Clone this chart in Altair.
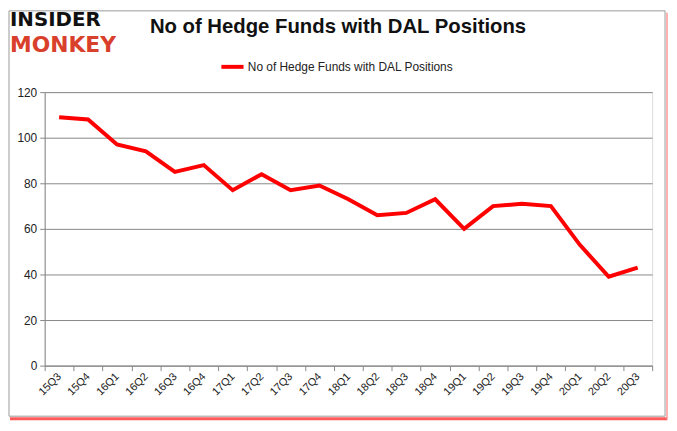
import altair as alt
import pandas as pd

quarters = ["15Q3", "15Q4", "16Q1", "16Q2", "16Q3", "16Q4", "17Q1", "17Q2", "17Q3", "17Q4",
            "18Q1", "18Q2", "18Q3", "18Q4", "19Q1", "19Q2", "19Q3", "19Q4", "20Q1", "20Q2", "20Q3"]
funds = [109, 108, 97, 94, 85, 88, 77, 84, 77, 79,
         73, 66, 67, 73, 60, 70, 71, 70, 53, 39, 43]
series_name = "No of Hedge Funds with DAL Positions"
title_text = "No of Hedge Funds with DAL Positions"
logo_top = "INSIDER"
logo_bottom = "MONKEY"

df = pd.DataFrame({"quarter": quarters, "funds": funds, "series": series_name})
one = pd.DataFrame({"k": [0]})

W, H = 613, 276

line = alt.Chart(df).mark_line(strokeWidth=4, color="#ff0000").encode(
    x=alt.X("quarter:N", sort=quarters, title=None,
            scale=alt.Scale(type="band", paddingInner=0, paddingOuter=0),
            axis=alt.Axis(labelAngle=-45, labelAlign="right", labelBaseline="middle",
                          tickBand="extent", tickSize=5, tickColor="#888888",
                          domainColor="#888888", labelFontSize=11, labelColor="#222222",
                          labelFont="Liberation Sans", labelPadding=4, grid=False)),
    y=alt.Y("funds:Q", title=None,
            scale=alt.Scale(domain=[0, 120]),
            axis=alt.Axis(values=[0, 20, 40, 60, 80, 100, 120], tickSize=5,
                          tickColor="#888888", domainColor="#888888", gridColor="#888888",
                          gridWidth=1, labelFontSize=12, labelColor="#222222",
                          labelFont="Liberation Sans", labelPadding=3)),
    color=alt.Color("series:N", scale=alt.Scale(range=["#ff0000"]),
                    legend=alt.Legend(title=None, orient="none", legendX=176, legendY=-39,
                                      symbolType="stroke", symbolStrokeWidth=4, symbolSize=500,
                                      labelFontSize=12, labelFont="Liberation Sans",
                                      labelColor="#222222", labelOffset=2, labelLimit=0)),
)

title = alt.Chart(one).mark_text(
    text=title_text, fontSize=20.5, fontWeight="bold", font="Liberation Sans",
    color="#111111", align="center", baseline="middle"
).encode(x=alt.value(296), y=alt.value(-66))

logo1 = alt.Chart(one).mark_text(
    text=logo_top, fontSize=20, fontWeight="bold", font="DejaVu Sans", color="#111111",
    align="left", baseline="middle"
).encode(x=alt.value(-35), y=alt.value(-73))

logo2 = alt.Chart(one).mark_text(
    text=logo_bottom, fontSize=22, fontWeight="bold", font="DejaVu Sans", color="#d9402b",
    align="left", baseline="middle"
).encode(x=alt.value(-35), y=alt.value(-47))

frame = alt.Chart(one).mark_rect(fill=None, stroke="#9a9a9a", strokeWidth=1).encode(
    x=alt.value(-36), x2=alt.value(626), y=alt.value(-82), y2=alt.value(327))

shadow_b = alt.Chart(one).mark_rule(stroke="#ff3030", strokeWidth=3, opacity=0.8).encode(
    x=alt.value(-35), x2=alt.value(628), y=alt.value(329.5))

shadow_r = alt.Chart(one).mark_rule(stroke="#ff9090", strokeWidth=2, opacity=0.7).encode(
    x=alt.value(628), y=alt.value(-80), y2=alt.value(331))

chart = alt.layer(frame, shadow_b, shadow_r, line, title, logo1, logo2).properties(
    width=W, height=H,
    autosize=alt.AutoSizeParams(type="none"),
    padding={"left": 37, "top": 83, "right": 17, "bottom": 56},
).configure_view(stroke=None).configure(background="white")

chart.save("out.html", embed_options={"renderer": "svg", "actions": False})
